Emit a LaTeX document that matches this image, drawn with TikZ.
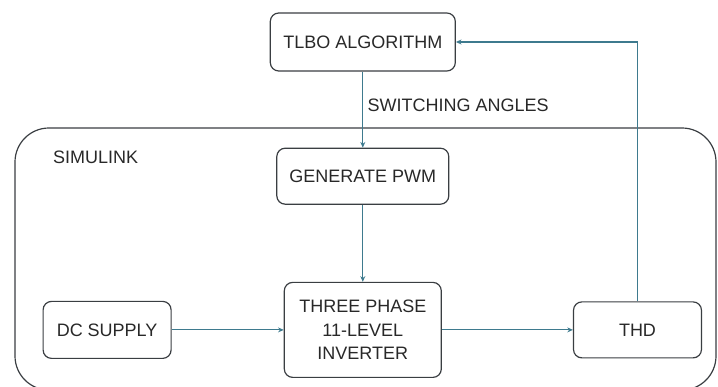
\documentclass[tikz,border=0pt]{standalone}
\usepackage{fontspec}
\setmainfont{Liberation Sans}
\usetikzlibrary{positioning,arrows.meta}
\definecolor{boxline}{RGB}{58,62,66}
\definecolor{flowline}{RGB}{62,122,142}
\definecolor{txt}{RGB}{40,40,40}

\begin{document}
\begin{tikzpicture}[
                  blk/.style={draw=boxline,rounded corners=6pt,line width=0.85pt,align=center,text=txt,inner sep=2pt,font=\fontsize{12.8}{16.7}\selectfont},
                  arr/.style={-{Stealth[length=4pt,width=3.5pt]},draw=flowline,line width=0.8pt}
                ]
                \useasboundingbox (0,0) rectangle (17.95,-9.675);
                % simulink frame
                \draw[boxline,line width=0.85pt,rounded corners=0.85cm] (0.375,-3.2) rectangle (17.9,-9.75);
                \node[anchor=west,text=txt,inner sep=0pt,font=\fontsize{12.8}{16.7}\selectfont] (sim) at (1.32,-3.925) {SIMULINK};

                \node[blk,minimum width=4.625cm,minimum height=1.45cm] (tlbo) at (9.07,-1.05) {TLBO ALGORITHM};
                \node[blk,minimum width=4.3cm,minimum height=1.4cm,below=1.9cm of tlbo] (pwm) {GENERATE PWM};
                \node[blk,minimum width=3.925cm,minimum height=2.375cm,below=1.925cm of pwm] (inv) {THREE PHASE\\11-LEVEL\\INVERTER};
                \node[blk,minimum width=3.2cm,minimum height=1.425cm,left=2.8cm of inv] (dc) {DC SUPPLY};
                \node[blk,minimum width=3.2cm,minimum height=1.4cm,right=3.275cm of inv] (thd) {THD};

                \draw[arr] (tlbo.south) -- node[pos=0.45,right,text=txt,inner sep=3pt,font=\fontsize{12.8}{16.7}\selectfont] {SWITCHING ANGLES} (pwm.north);
                \draw[arr] (pwm.south) -- (inv.north);
                \draw[arr] (dc.east) -- (inv.west);
                \draw[arr] (inv.east) -- (thd.west);
                \draw[arr] (thd.north) |- (tlbo.east);
                \end{tikzpicture}
\end{document}
